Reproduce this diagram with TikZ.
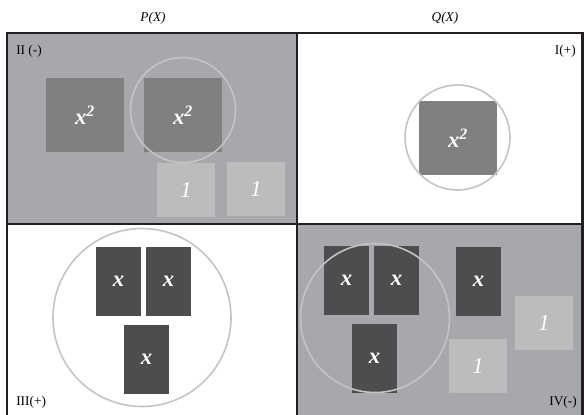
\documentclass[tikz,border=0pt]{standalone}
\usepackage{fontspec}
\setmainfont{Liberation Serif}
\begin{document}
\begin{tikzpicture}[x=0.75pt,y=-0.75pt,
  quad/.style={draw=frame,line width=1.6pt},
  sq/.style={fill=sqgray,inner sep=0pt,text=white,font=\fontsize{17}{17}\selectfont\bfseries\itshape},
  xbox/.style={fill=xdark,inner sep=0pt,minimum width=45*0.75pt,minimum height=69*0.75pt,text=white,font=\fontsize{17}{17}\selectfont\bfseries\itshape},
  onebox/.style={fill=onegray,inner sep=0pt,minimum width=58*0.75pt,minimum height=54*0.75pt,text=white,font=\fontsize{17}{17}\selectfont\itshape},
  ring/.style={circle,draw=ringgray,line width=1.2pt,inner sep=0pt},
  lab/.style={inner sep=0pt,font=\fontsize{10}{10}\selectfont}]
\definecolor{frame}{HTML}{231F20}
\definecolor{quadgray}{HTML}{A7A8AB}
\definecolor{sqgray}{HTML}{808080}
\definecolor{xdark}{HTML}{4D4D4F}
\definecolor{onegray}{HTML}{BCBCBC}
\definecolor{ringgray}{HTML}{C4C4C4}
\useasboundingbox (0,0) rectangle (584,414);
% quadrants
\fill[quadgray] (7,33) rectangle (297,224);
\fill[quadgray] (297,224) rectangle (583,418);
% top-left
\node[sq,minimum width=78*0.75pt,minimum height=74*0.75pt] (a1) at (85,115) {x\textsuperscript{2}};
\node[sq,minimum width=78*0.75pt,minimum height=74*0.75pt] (a2) at (183,115) {x\textsuperscript{2}};
\node[onebox] (a3) at (186,190) {1};
\node[onebox] (a4) at (256,189) {1};
\node[ring,minimum size=105*0.75pt] (ca) at (183,110) {};
% top-right
\node[sq,minimum width=78*0.75pt,minimum height=74*0.75pt] (b1) at (458,138) {x\textsuperscript{2}};
\node[ring,minimum size=105*0.75pt] (cb) at (457.5,137.5) {};
% bottom-left
\node[xbox] (c1) at (118.5,281) {x};
\node[xbox] (c2) at (168.5,281) {x};
\node[xbox] (c3) at (146.5,359) {x};
\node[ring,minimum size=178*0.75pt] (cc) at (142,317.5) {};
% bottom-right
\node[xbox] (d1) at (346.5,280.5) {x};
\node[xbox] (d2) at (396.5,280.5) {x};
\node[xbox] (d3) at (374.5,358.5) {x};
\node[xbox] (d4) at (478.5,281) {x};
\node[onebox] (d5) at (478,366) {1};
\node[onebox] (d6) at (544,323) {1};
\node[ring,minimum size=149*0.75pt] (cd) at (375,318) {};
% frame
\draw[quad] (7,33) rectangle (297,224);
\draw[quad] (297,33) rectangle (582.5,224);
\draw[quad] (7,224) rectangle (297,420);
\draw[quad] (297,224) rectangle (582.5,420);
% labels
\node[lab,font=\fontsize{10}{10}\selectfont\itshape] (px) at (153,18) {P(X)};
\node[lab,font=\fontsize{10}{10}\selectfont\itshape] (qx) at (445,18) {Q(X)};
\node[lab,anchor=west] (l2) at (16,51) {II (-)};
\node[lab,anchor=east] (l1) at (576,51) {I(+)};
\node[lab,anchor=west] (l3) at (16,402) {III(+)};
\node[lab,anchor=east] (l4) at (577,402) {IV(-)};
\end{tikzpicture}
\end{document}
